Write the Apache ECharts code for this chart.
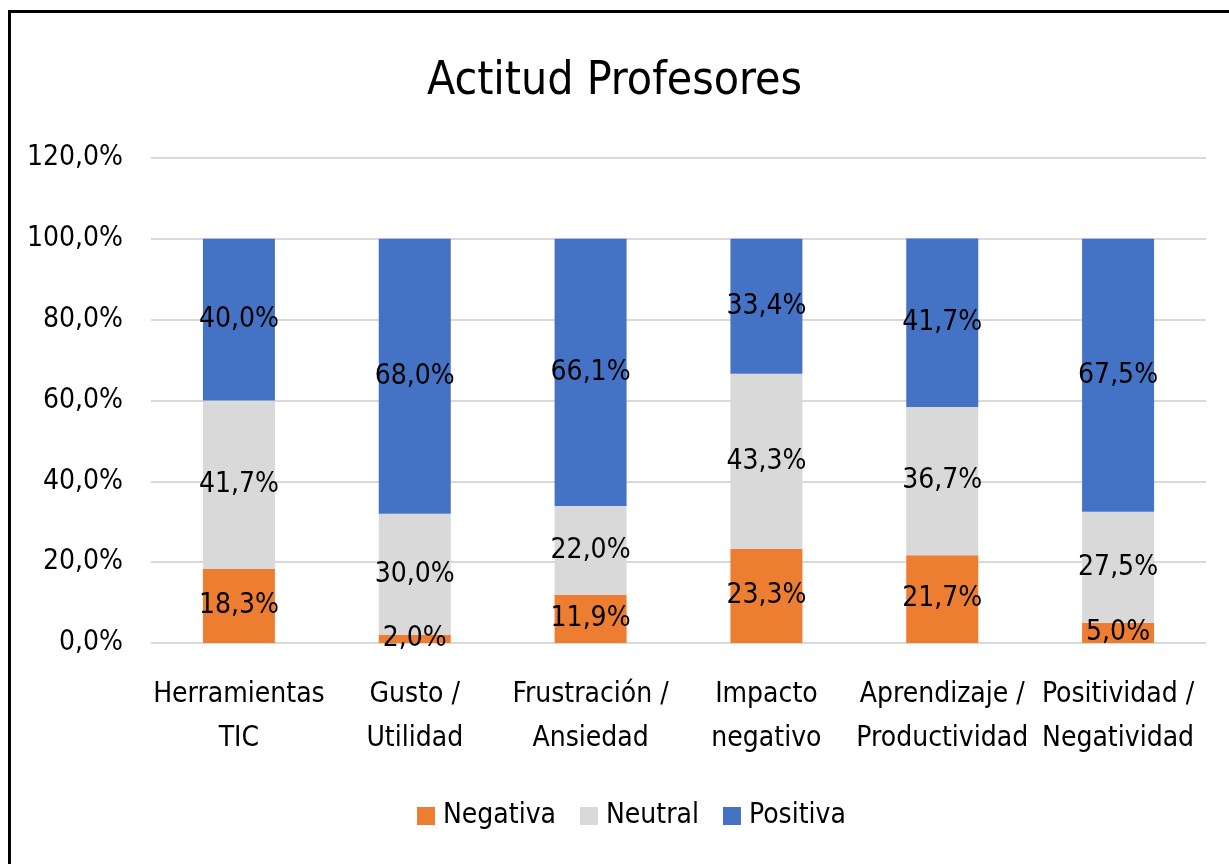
<!DOCTYPE html>
<html>
<head>
<meta charset="utf-8">
<script src="https://cdn.jsdelivr.net/npm/echarts@6/dist/echarts.min.js"></script>
<style>
    html, body { margin: 0; padding: 0; background: #fff; overflow: hidden; }
    #chart { width: 1229px; height: 864px; }
</style>
</head>
<body>
<div id="chart"></div>
<script>
// categorias y valores (%)
const categories = [
    'Herramientas\nTIC',
    'Gusto /\nUtilidad',
    'Frustración /\nAnsiedad',
    'Impacto\nnegativo',
    'Aprendizaje /\nProductividad',
    'Positividad /\nNegatividad'
]
const negativa = [18.3, 2.0, 11.9, 23.3, 21.7, 5.0]
const neutral = [41.7, 30.0, 22.0, 43.3, 36.7, 27.5]
const positiva = [40.0, 68.0, 66.1, 33.4, 41.7, 67.5]

const font = "'Liberation Sans Narrow', 'DejaVu Sans Condensed', sans-serif"
const pct = v => v.toFixed(1).replace('.', ',') + '%'

const labelStyle = {
    show: true,
    position: 'inside',
    color: '#000',
    fontFamily: font,
    fontSize: 28,
    formatter: p => pct(p.value)
}

const makeSeries = (name, data, color) => ({
    name: name,
    type: 'bar',
    stack: 'total',
    barWidth: 72,
    data: data,
    itemStyle: { color: color },
    label: labelStyle
})

const chart = echarts.init(document.getElementById('chart'))
const option = {
    animation: false,
    textStyle: { fontFamily: font },
    title: {
        text: 'Actitud Profesores',
        left: 'center',
        top: 54,
        textStyle: { fontFamily: font, fontSize: 46, fontWeight: 'normal', color: '#000' }
    },
    graphic: [{
        type: 'rect',
        shape: { x: 9.5, y: 11.5, width: 1260, height: 900 },
        style: { fill: 'none', stroke: '#000', lineWidth: 3 }
    }],
    legend: {
        bottom: 29,
        left: 412,
        itemWidth: 18,
        itemHeight: 18,
        itemGap: 24,
        icon: 'rect',
        textStyle: { fontFamily: font, fontSize: 28, color: '#000', padding: [0, 0, 0, 3] }
    },
    grid: {
        left: 151,
        right: 23,
        top: 158,
        bottom: 221
    },
    xAxis: {
        type: 'category',
        data: categories,
        axisTick: { show: false },
        axisLine: { show: false },
        axisLabel: {
            interval: 0,
            color: '#000',
            fontFamily: font,
            fontSize: 28,
            lineHeight: 44,
            margin: 30
        }
    },
    yAxis: {
        type: 'value',
        min: 0,
        max: 120,
        interval: 20,
        axisLine: { show: false },
        axisTick: { show: false },
        axisLabel: {
            color: '#000',
            fontFamily: font,
            fontSize: 28,
            margin: 28,
            formatter: v => pct(v)
        },
        splitLine: { lineStyle: { color: '#D9D9D9', width: 2 } }
    },
    series: [
        makeSeries('Negativa', negativa, '#ED7D31'),
        makeSeries('Neutral', neutral, '#D9D9D9'),
        makeSeries('Positiva', positiva, '#4472C4')
    ]
}
chart.setOption(option)
</script>
</body>
</html>
